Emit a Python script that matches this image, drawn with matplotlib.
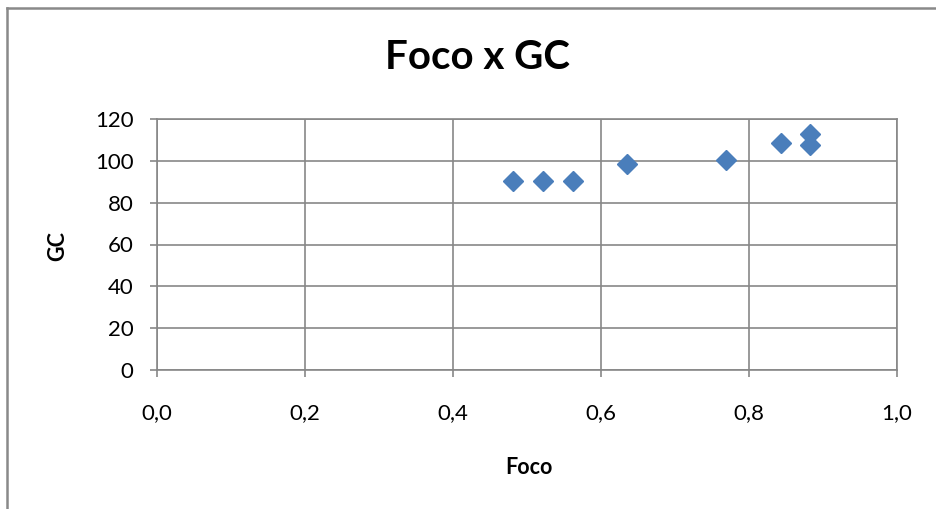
import matplotlib.pyplot as plt
from matplotlib.lines import Line2D

# Dados
foco = [0.481, 0.522, 0.562, 0.635, 0.769, 0.843, 0.883, 0.883]
gc = [90.3, 90.3, 90.3, 98.6, 100.2, 108.3, 113.0, 107.4]

x_ticks = [0.0, 0.2, 0.4, 0.6, 0.8, 1.0]
x_labels = ['0,0', '0,2', '0,4', '0,6', '0,8', '1,0']
y_ticks = [0, 20, 40, 60, 80, 100, 120]

plt.rcParams['font.family'] = ['Lato', 'DejaVu Sans']

W, H = 937, 509
fig = plt.figure(figsize=(W / 100, H / 100), dpi=100)
ax = fig.add_axes([157 / W, 1 - 370 / H, 740 / W, 251 / H])

grid_col = '#878787'

# Pontos
ax.plot(foco, gc, linestyle='none', marker='D', markersize=10,
        color='#4A7EBB', markeredgecolor='#4A7EBB', zorder=3)

ax.set_xlim(0, 1.0)
ax.set_ylim(0, 120)
ax.set_xticks(x_ticks)
ax.set_xticklabels(x_labels)
ax.set_yticks(y_ticks)
ax.grid(True, color=grid_col, linewidth=1.2)
ax.set_axisbelow(True)

for s in ax.spines.values():
    s.set_color(grid_col)
    s.set_linewidth(1.2)

ax.tick_params(axis='both', colors=grid_col, labelcolor='black', labelsize=16,
               length=5, width=1.2)
ax.tick_params(axis='x', pad=19)
ax.tick_params(axis='y', pad=12)

# Títulos
fig.text(477 / W, 1 - 57.5 / H, 'Foco x GC', fontsize=29, fontweight='bold',
         ha='center', va='center')
fig.text(529 / W, 1 - 468 / H, 'Foco', fontsize=15.5, fontweight='bold',
         ha='center', va='center')
fig.text(58 / W, 1 - 246 / H, 'GC', fontsize=15.5, fontweight='bold',
         ha='center', va='center', rotation=90)

# Borda da área do gráfico (estilo Excel)
bx, by = 7.5 / W, 1 - 7.5 / H
fig.add_artist(Line2D([bx, 1.0], [by, by], transform=fig.transFigure,
                      color='#898989', linewidth=1.8))
fig.add_artist(Line2D([bx, bx], [0.0, by], transform=fig.transFigure,
                      color='#898989', linewidth=1.8))

fig.savefig('out.png', dpi=100)
